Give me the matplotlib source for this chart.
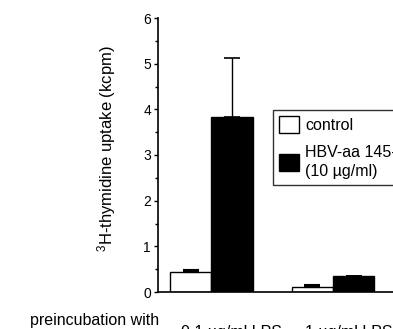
import numpy as np
import matplotlib.pyplot as plt
from matplotlib.ticker import MultipleLocator

plt.rcParams['font.family'] = ['Liberation Sans', 'DejaVu Sans']
plt.rcParams['mathtext.default'] = 'regular'

# data
groups = ['0.1 µg/ml', '1 µg/ml']
control = [0.44, 0.10]
control_err = [0.05, 0.05]
hbv = [3.83, 0.34]
hbv_err = [1.30, 0.0]

fig = plt.figure(figsize=(3.93, 3.29), dpi=100)
ax = fig.add_axes([158 / 393, 37 / 329, 282 / 393, 274 / 329])

x = np.arange(len(groups))
w = 0.34
ax.bar(x - w / 2, control, w, color='white', edgecolor='black', linewidth=1.0,
       yerr=[np.zeros(2), control_err], capsize=6, error_kw=dict(lw=1, capthick=1.5),
       label='control')
ax.bar(x + w / 2, hbv, w, color='black', edgecolor='black', linewidth=1.0,
       yerr=[np.zeros(2), hbv_err], capsize=6, error_kw=dict(lw=1, capthick=1.2),
       label='HBV-aa 145-163\n(10 µg/ml)')

ax.set_xlim(-0.44, -0.44 + 282 / 121.5)
ax.set_ylim(0, 6)
ax.yaxis.set_major_locator(MultipleLocator(1))
ax.yaxis.set_minor_locator(MultipleLocator(0.5))
ax.tick_params(axis='y', which='major', length=3, width=1, labelsize=10, pad=2)
ax.tick_params(axis='y', which='minor', length=2, width=1)
ax.set_xticks([])
for s in ['top', 'right']:
    ax.spines[s].set_visible(False)
ax.spines['left'].set_linewidth(1.2)
ax.spines['bottom'].set_linewidth(1.2)

ax.set_ylabel('$^{3}$H-thymidine uptake (kcpm)', fontsize=12)
ax.yaxis.set_label_coords((118 - 158) / 282, 0.525)

leg = ax.legend(loc='upper left', bbox_to_anchor=(273 / 393, (329 - 110) / 329),
                bbox_transform=fig.transFigure, fontsize=11.5, frameon=True,
                fancybox=False, edgecolor='black', handlelength=1.25,
                handleheight=1.25, handletextpad=0.35, borderpad=0.4,
                labelspacing=0.75, borderaxespad=0)
leg.get_frame().set_linewidth(1.0)
for t in leg.get_texts():
    t.set_linespacing(1.3)

fig.text(30 / 393, 1 - 313 / 329, 'preincubation with', fontsize=11.5, va='top')
fig.text(181 / 393, 1 - 325 / 329, '0.1 µg/ml LPS', fontsize=11.5, va='top')
fig.text(305 / 393, 1 - 325 / 329, '1 µg/ml LPS', fontsize=11.5, va='top')

fig.savefig('out.png', dpi=100)
